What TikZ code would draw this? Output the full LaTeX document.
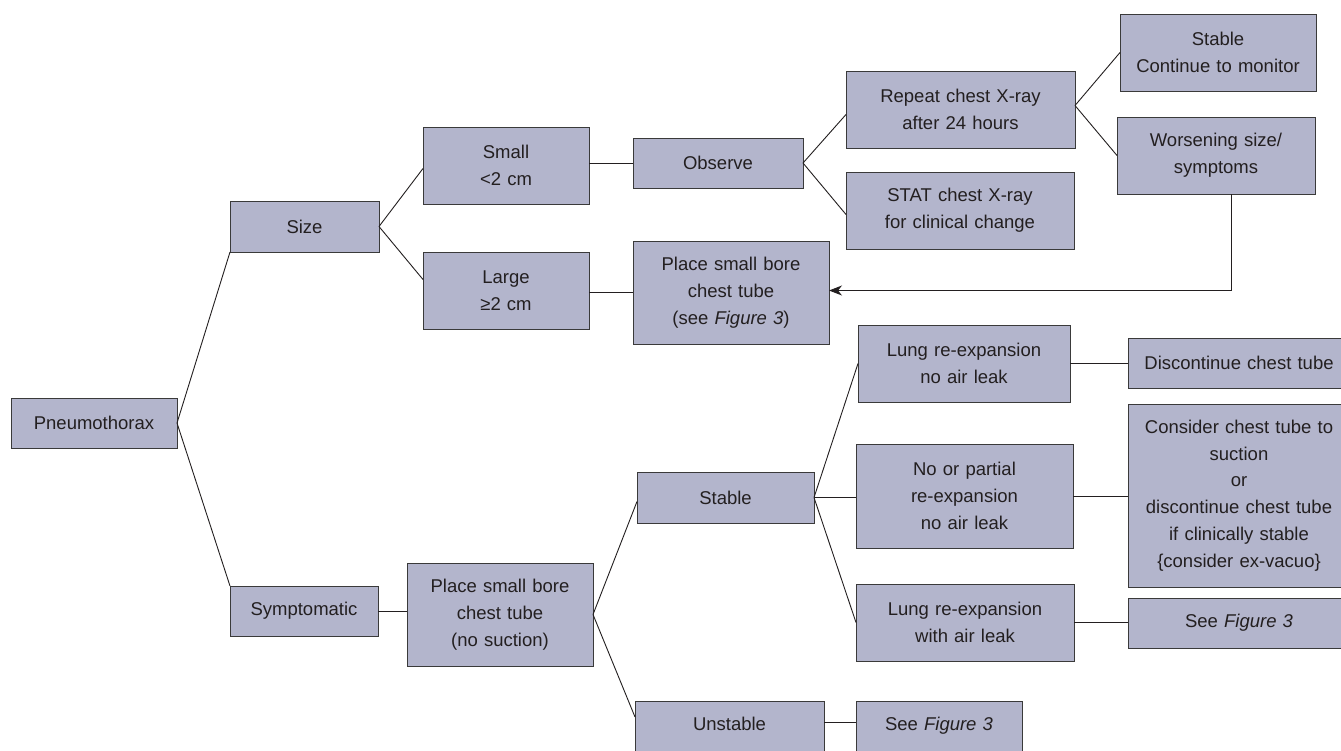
\documentclass[tikz,border=0pt]{standalone}
\usepackage{fontspec}
\setmainfont{Liberation Sans}
\usetikzlibrary{arrows.meta}
\definecolor{boxfill}{HTML}{B3B5CC}
\definecolor{boxline}{HTML}{3A3A3A}
\definecolor{txt}{HTML}{231F20}
\tikzset{
  box/.style={draw=boxline, line width=1pt, fill=boxfill, inner sep=0pt, outer sep=0pt,
    align=center, text=txt, font=\fontsize{18.5}{26.8}\selectfont, text width=#1},
  box/.default=20cm,
  conn/.style={draw=txt, line width=0.9pt},
}
\begin{document}
\begin{tikzpicture}[x=1pt,y=-1pt]
\fill[white] (0,0) rectangle (1341,750);
\clip (0,0) rectangle (1341,750);
\node[box=166pt, minimum width=166pt, minimum height=50pt] (pneu) at (94,423) {Pneumothorax};
\node[box=149pt, minimum width=149pt, minimum height=51pt] (size) at (304.5,226.5) {Size};
\node[box=148pt, minimum width=148pt, minimum height=50pt] (symp) at (304,611) {Symptomatic};
\node[box=166pt, minimum width=166pt, minimum height=77pt] (small) at (506,165.5) {Small\\<2 cm};
\node[box=166pt, minimum width=166pt, minimum height=77pt] (large) at (506,290.5) {Large\\≥2 cm};
\node[box=170pt, minimum width=170pt, minimum height=50pt] (obs) at (718,163) {Observe};
\node[box=196pt, minimum width=196pt, minimum height=103pt] (placea) at (731,292.5) {Place small bore\\chest tube\\(see \textit{Figure 3})};
\node[box=229pt, minimum width=229pt, minimum height=77pt] (rep) at (960.5,109.5) {Repeat chest X-ray\\after 24 hours};
\node[box=228pt, minimum width=228pt, minimum height=77pt] (stat) at (960,210.5) {STAT chest X-ray\\for clinical change};
\node[box=196pt, minimum width=196pt, minimum height=77pt] (stabm) at (1218,52.5) {Stable\\Continue to monitor};
\node[box=198pt, minimum width=198pt, minimum height=77pt] (wors) at (1216,155.5) {Worsening size/\\symptoms};
\node[box=186pt, minimum width=186pt, minimum height=103pt] (placeb) at (500,614.5) {Place small bore\\chest tube\\(no suction)};
\node[box=177pt, minimum width=177pt, minimum height=51pt] (stab) at (725.5,497.5) {Stable};
\node[box=189pt, minimum width=189pt, minimum height=50pt] (unst) at (729.5,726) {\raisebox{4pt}{Unstable}};
\node[box=212pt, minimum width=212pt, minimum height=77pt] (lunga) at (964,363.5) {Lung re-expansion\\no air leak};
\node[box=217pt, minimum width=217pt, minimum height=104pt] (nopart) at (964.5,496) {No or partial\\re-expansion\\no air leak};
\node[box=218pt, minimum width=218pt, minimum height=77pt] (lungb) at (965,622.5) {Lung re-expansion\\with air leak};
\node[box=166pt, minimum width=166pt, minimum height=50pt] (seeb) at (939,726) {\raisebox{4pt}{See \textit{Figure 3}}};
\node[box=222pt, minimum width=222pt, minimum height=50pt] (disc) at (1239,363) {Discontinue chest tube};
\node[box=222pt, minimum width=222pt, minimum height=183pt] (cons) at (1239,495.5) {Consider chest tube to\\suction\\or\\discontinue chest tube\\if clinically stable\\\{consider ex-vacuo\}};
\node[box=222pt, minimum width=222pt, minimum height=50pt] (seer) at (1239,623) {See \textit{Figure 3}};
% connectors
\draw[conn] (pneu.east) -- (size.south west);
\draw[conn] (pneu.east) -- (symp.north west);
\draw[conn] (size.east) -- ([yshift=-3pt]small.west);
\draw[conn] (size.east) -- ([yshift=11pt]large.west);
\draw[conn] (obs.west -| small.east) -- (obs.west);
\draw[conn] (placea.west -| large.east) -- (placea.west);
\draw[conn] (obs.east) -- ([yshift=-5pt]rep.west);
\draw[conn] (obs.east) -- ([yshift=-4pt]stat.west);
\draw[conn] ([yshift=4pt]rep.east) -- (stabm.west);
\draw[conn] ([yshift=4pt]rep.east) -- (wors.west);
\draw[conn, -{Stealth[length=13pt,width=10pt,inset=4pt]}] ([xshift=15pt]wors.south) |- ([yshift=2pt]placea.east);
\draw[conn] (symp.east) -- (symp.east -| placeb.west);
\draw[conn] (placeb.east) -- ([yshift=-4pt]stab.west);
\draw[conn] (placeb.east) -- ([yshift=9pt]unst.west);
\draw[conn] (stab.east) -- (lunga.west);
\draw[conn] (stab.east) -- (stab.east -| nopart.west);
\draw[conn] (stab.east) -- (lungb.west);
\draw[conn] (lunga.east) -- (lunga.east -| disc.west);
\draw[conn] (nopart.east) -- (nopart.east -| cons.west);
\draw[conn] (lungb.east) -- (lungb.east -| seer.west);
\draw[conn] ([yshift=4pt]unst.east) -- ([yshift=4pt]seeb.west);
\end{tikzpicture}
\end{document}
